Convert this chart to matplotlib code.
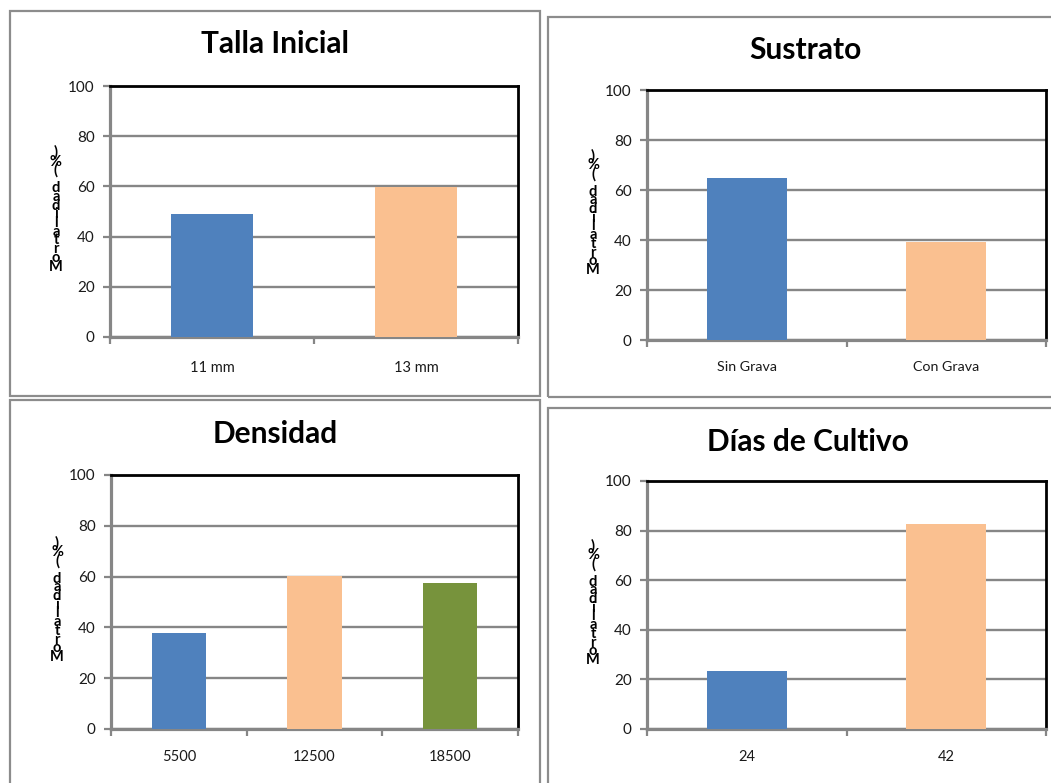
import matplotlib
matplotlib.use("Agg")
import matplotlib.pyplot as plt
from matplotlib.patches import Rectangle

plt.rcParams['font.family'] = ['Lato', 'DejaVu Sans']

# ---- data -------------------------------------------------------------
talla_cats = ["11 mm", "13 mm"]
talla_vals = [49.0, 59.7]

sustrato_cats = ["Sin Grava", "Con Grava"]
sustrato_vals = [64.7, 39.4]

densidad_cats = ["5500", "12500", "18500"]
densidad_vals = [37.7, 60.3, 57.6]

dias_cats = ["24", "42"]
dias_vals = [23.4, 82.7]

y_ticks = [0, 20, 40, 60, 80, 100]
y_label = "Mortalidad (%)"

BLUE, ORANGE, GREEN = "#4F81BD", "#FAC090", "#77933C"
GRID = "#868686"
FRAME = "#8C8C8C"

W, H = 1051, 783
fig = plt.figure(figsize=(W / 100, H / 100), dpi=100)


def px_rect(left, top, right, bottom):
    """Figure-fraction rectangle from pixel edges (origin top-left)."""
    return [left / W, 1 - bottom / H, (right - left) / W, (bottom - top) / H]


def frame(left, top, right, bottom):
    fig.patches.append(Rectangle((left / W, 1 - bottom / H),
                                 (right - left) / W, (bottom - top) / H,
                                 transform=fig.transFigure, fill=False,
                                 edgecolor=FRAME, linewidth=1.6, zorder=0))


def panel(box, title, title_xy, cats, vals, colors, xfs, xpad):
    ax = fig.add_axes(px_rect(*box))
    n = len(cats)
    centers = [i + 0.5 for i in range(n)]
    ax.bar(centers, vals, width=0.4, color=colors, zorder=3)
    ax.set_xlim(0, n)
    ax.set_ylim(0, 100)
    ax.set_yticks(y_ticks)
    ax.yaxis.grid(True, color=GRID, linewidth=1.7, zorder=1)
    ax.set_axisbelow(True)

    ax.set_xticks(range(n + 1))
    ax.set_xticklabels([])
    ax.set_xticks(centers, minor=True)
    ax.set_xticklabels(cats, minor=True, fontsize=xfs, color="#1a1a1a")
    ax.tick_params(axis="x", which="major", direction="out", length=5,
                   width=1.6, color=GRID)
    ax.tick_params(axis="x", which="minor", length=0, pad=xpad)
    ax.tick_params(axis="y", direction="out", length=5, width=1.6,
                   color=GRID, labelsize=11, pad=6, labelcolor="#1a1a1a")

    for s in ("left", "bottom"):
        ax.spines[s].set_color(GRID)
        ax.spines[s].set_linewidth(2.3)
    for s in ("top", "right"):
        ax.spines[s].set_color("black")
        ax.spines[s].set_linewidth(2.0)

    fig.text(title_xy[0] / W, 1 - title_xy[1] / H, title, ha="center",
             va="center", fontsize=21.5, fontweight="bold")

    # vertical label: upright letters stacked bottom-to-top, tightly packed
    left, top, right, bottom = box
    cx = left - 54
    cy = (top + bottom) / 2 - 2
    stacked = "\n".join(reversed(y_label))
    fig.text(cx / W, 1 - cy / H, stacked, ha="center", va="center",
             multialignment="center", fontsize=10.5, fontweight="bold",
             linespacing=0.52)
    return ax


frame(10, 11, 540, 396)
frame(548, 17, 1060, 397)
frame(10, 400, 540, 800)
frame(548, 408, 1060, 800)

panel((110, 86, 518, 337), "Talla Inicial", (275, 44),
      talla_cats, talla_vals, [BLUE, ORANGE], 10.5, 17)
panel((647, 90, 1046, 340), "Sustrato", (805, 50),
      sustrato_cats, sustrato_vals, [BLUE, ORANGE], 10.3, 15)
panel((111, 475, 518, 729), "Densidad", (275, 434),
      densidad_cats, densidad_vals, [BLUE, ORANGE, GREEN], 10.5, 15)
panel((647, 481, 1046, 729), "Días de Cultivo", (808, 442),
      dias_cats, dias_vals, [BLUE, ORANGE], 10.5, 15)

fig.savefig("out.png", dpi=100)
